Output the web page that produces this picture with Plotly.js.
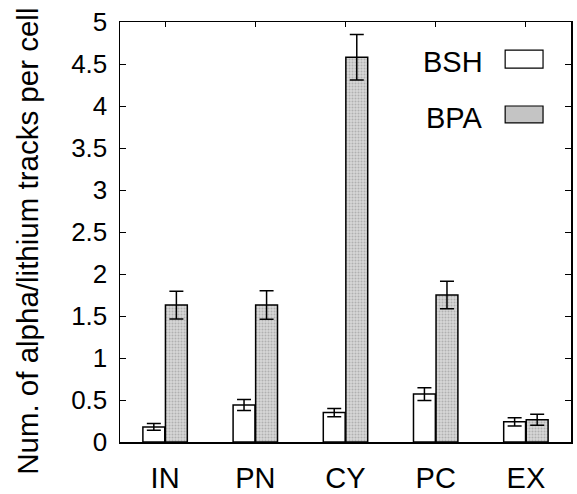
<!DOCTYPE html>
<html>
<head>
<meta charset="utf-8">
<script src="https://cdn.plot.ly/plotly-3.0.1.min.js"></script>
<style>html,body{margin:0;padding:0;background:#fff;}#chart{width:577px;height:494px;}</style>
</head>
<body>
<div id="chart"></div>
<script>
const categories = ["IN", "PN", "CY", "PC", "EX"];
const seriesNames = ["BSH", "BPA"];
const bshValues = [0.18, 0.44, 0.35, 0.57, 0.24];
const bshErrors = [0.04, 0.065, 0.05, 0.075, 0.05];
const bpaValues = [1.63, 1.63, 4.58, 1.75, 0.265];
const bpaErrors = [0.165, 0.17, 0.27, 0.165, 0.065];
const yTickVals = [0, 0.5, 1, 1.5, 2, 2.5, 3, 3.5, 4, 4.5, 5];
const yTickText = ["0", "0.5", "1", "1.5", "2", "2.5", "3", "3.5", "4", "4.5", "5"];
const yTitle = "Num. of alpha/lithium tracks per cell";

const FONT = "Liberation Sans, Arial, sans-serif";

const traces = [
  {
    type: "bar", name: seriesNames[0], x: categories, y: bshValues,
    marker: { color: "#ffffff", line: { color: "#000", width: 1.5 } },
    error_y: { type: "data", array: bshErrors, visible: true, color: "#000", thickness: 1.5, width: 7 },
    showlegend: false
  },
  {
    type: "bar", name: seriesNames[1], x: categories, y: bpaValues,
    marker: {
      color: "#cfcfcf",
      line: { color: "#000", width: 1.5 },
      pattern: { shape: ".", bgcolor: "#d6d6d6", fgcolor: "#8a8a8a", size: 3, solidity: 0.35, fillmode: "overlay" }
    },
    error_y: { type: "data", array: bpaErrors, visible: true, color: "#000", thickness: 1.5, width: 7 },
    showlegend: false
  }
];

const layout = {
  width: 577, height: 494,
  margin: { l: 120, r: 6, t: 22, b: 52 },
  paper_bgcolor: "#fff", plot_bgcolor: "#fff",
  barmode: "group", bargap: 0.5, bargroupgap: 0.03,
  font: { family: FONT, color: "#000", size: 28 },
  xaxis: {
    type: "category", range: [-0.5, 4.5], automargin: false,
    showline: true, linecolor: "#000", linewidth: 1.5, mirror: "ticks",
    ticks: "inside", ticklen: 5, tickcolor: "#000", ticklabelstandoff: 10,
    tickfont: { size: 29 }, showgrid: false, zeroline: false
  },
  yaxis: {
    range: [0, 5], tickvals: yTickVals, ticktext: yTickText, automargin: false,
    showline: true, linecolor: "#000", linewidth: 1.5, mirror: "ticks",
    ticks: "inside", ticklen: 6, tickcolor: "#000", ticklabelstandoff: 6,
    tickfont: { size: 26 }, showgrid: false, zeroline: false
  },
  annotations: [
    { xref: "paper", yref: "paper", x: -0.204, y: 0.479, xanchor: "center", yanchor: "middle",
      textangle: -90, text: yTitle, showarrow: false, font: { size: 29.5 } },
    { xref: "paper", yref: "paper", x: 0.81, y: 0.905, xanchor: "right", yanchor: "middle",
      text: seriesNames[0], showarrow: false, font: { size: 29 } },
    { xref: "paper", yref: "paper", x: 0.81, y: 0.771, xanchor: "right", yanchor: "middle",
      text: seriesNames[1], showarrow: false, font: { size: 29 } }
  ],
  shapes: [
    { type: "rect", xref: "paper", yref: "paper", x0: 0.854, x1: 0.938, y0: 0.89, y1: 0.933,
      line: { color: "#000", width: 1.2 }, fillcolor: "#fff" },
    { type: "rect", xref: "paper", yref: "paper", x0: 0.854, x1: 0.938, y0: 0.76, y1: 0.8,
      line: { color: "#000", width: 1.2 }, fillcolor: "#c4c4c4" }
  ]
};

Plotly.newPlot("chart", traces, layout, { displayModeBar: false, staticPlot: true });
</script>
</body>
</html>
